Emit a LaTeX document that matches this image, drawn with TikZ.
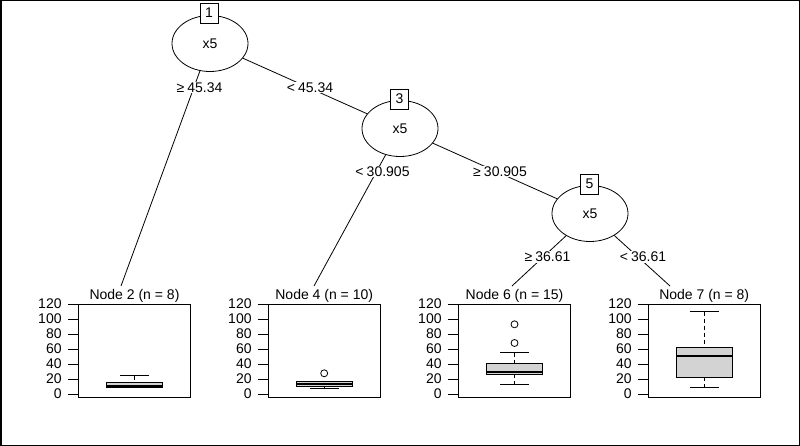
\documentclass[tikz,border=0pt]{standalone}
\usepackage{fontspec}
\setmainfont{Liberation Sans}
\usetikzlibrary{shapes.geometric}
\definecolor{boxgray}{HTML}{D3D3D3}
\begin{document}
\begin{tikzpicture}[x=1pt,y=-1pt,
  txt/.style={font=\fontsize{14}{16}\selectfont},
  split/.style={ellipse,draw,fill=white,line width=0.8pt,minimum width=76pt,minimum height=56pt,inner sep=0pt,txt},
  idbox/.style={draw,fill=white,line width=0.8pt,minimum width=18pt,minimum height=20pt,inner sep=0pt,txt},
  edge/.style={line width=0.8pt},
  elabel/.style={fill=white,inner sep=1pt,txt},
  ptitle/.style={anchor=base,inner sep=0pt,txt},
  ticklab/.style={anchor=east,inner sep=0pt,txt},
  pframe/.style={line width=0.8pt},
  bx/.style={draw,fill=boxgray,line width=0.7pt},
  whisk/.style={line width=0.8pt,dash pattern=on 4pt off 3pt},
  capline/.style={line width=0.8pt},
  med/.style={line width=2.2pt},
  outl/.style={circle,draw,line width=0.8pt,minimum size=7pt,inner sep=0pt}
]
\useasboundingbox (0,0) rectangle (800,446);
\draw[line width=1.5pt] (0.75,0.75) rectangle (799.25,445.25);

% inner nodes
\node[split] (n1) at (210,43.5) {x5};
\node[split] (n3) at (400,128.5) {x5};
\node[split] (n5) at (590,213.5) {x5};

% terminal node attachment points
\coordinate (t2) at (121,286);
\coordinate (t4) at (314,286);
\coordinate (t6) at (512,286);
\coordinate (t7) at (670,286);

% edges
\draw[edge] (n1) -- (t2);
\draw[edge] (n1) -- (n3);
\draw[edge] (n3) -- (t4);
\draw[edge] (n3) -- (n5);
\draw[edge] (n5) -- (t6);
\draw[edge] (n5) -- (t7);

% edge labels
\node[elabel] (l12) at (199.5,87.5) {≥\hspace{0.22em}45.34};
\node[elabel] (l13) at (310,87.5) {<\hspace{0.22em}45.34};
\node[elabel] (l34) at (382.5,171.5) {<\hspace{0.22em}30.905};
\node[elabel] (l35) at (500,171.5) {≥\hspace{0.22em}30.905};
\node[elabel] (l56) at (547.5,257) {≥\hspace{0.22em}36.61};
\node[elabel] (l57) at (643,257) {<\hspace{0.22em}36.61};

% id boxes
\node[idbox] (id1) at (209,13) {1};
\node[idbox] (id3) at (399.5,99) {3};
\node[idbox] (id5) at (589.5,184) {5};

% panels: frames, ticks, titles
\foreach \nm/\xl/\xr/\cx/\ttl in {2/78.3/190.7/134.5/{Node 2 (n = 8)},
                                  4/268.3/380/324.2/{Node 4 (n = 10)},
                                  6/458.3/570.7/514.5/{Node 6 (n = 15)},
                                  7/648.3/760/704.2/{Node 7 (n = 8)}}{
  \draw[pframe] (\xl,304.3) rectangle (\xr,397.3);
  \node[ptitle] (title\nm) at (\cx,299) {\ttl};
  \foreach \v in {0,20,...,120}{
    \draw[capline] ({\xl-10.5},{394-0.75*\v}) -- (\xl,{394-0.75*\v});
    \node[ticklab] at ({\xl-16.5},{394-0.75*\v}) {\v};
  }
}

% Node 2 boxplot
\draw[whisk] (134.5,375.7) -- (134.5,382.3);
\draw[capline] (120,375.7) -- (149,375.7);
\draw[bx] (106.2,382.3) rectangle (162.8,387.5);
\draw[med] (106.2,385.6) -- (162.8,385.6);
\draw[capline] (120,387.5) -- (149,387.5);

% Node 4 boxplot
\draw[bx] (295.9,381.7) rectangle (352.5,386.7);
\draw[med] (295.9,384.3) -- (352.5,384.3);
\draw[whisk] (324.2,386.7) -- (324.2,388.3);
\draw[capline] (309.7,388.3) -- (338.7,388.3);
\node[outl] (o4) at (324.2,373.3) {};

% Node 6 boxplot
\draw[whisk] (514.5,352.7) -- (514.5,363.3);
\draw[whisk] (514.5,374.3) -- (514.5,384);
\draw[capline] (500,352.7) -- (529,352.7);
\draw[capline] (500,384) -- (529,384);
\draw[bx] (486.2,363.3) rectangle (542.8,374.3);
\draw[med] (486.2,372.3) -- (542.8,372.3);
\node[outl] (o6a) at (514.5,324.3) {};
\node[outl] (o6b) at (514.5,343) {};

% Node 7 boxplot
\draw[whisk] (704.2,311.7) -- (704.2,347.3);
\draw[whisk] (704.2,377) -- (704.2,387.7);
\draw[capline] (689.7,311.7) -- (718.7,311.7);
\draw[capline] (689.7,387.7) -- (718.7,387.7);
\draw[bx] (675.9,347.3) rectangle (732.5,377);
\draw[med] (675.9,356) -- (732.5,356);
\end{tikzpicture}
\end{document}
